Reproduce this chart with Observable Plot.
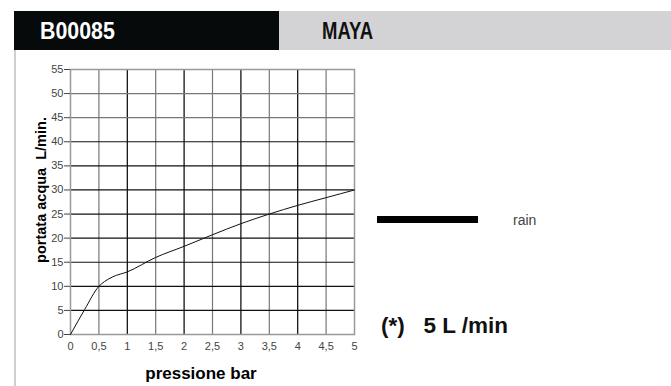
<!DOCTYPE html>
<html><head><meta charset="utf-8">
<script src="https://cdn.jsdelivr.net/npm/d3@7"></script>
<script src="https://cdn.jsdelivr.net/npm/@observablehq/plot@0.6"></script>
<style>
body{margin:0;width:671px;height:386px;overflow:hidden;background:#fff;font-family:"Liberation Sans",Arial,sans-serif;position:relative}
.abs{position:absolute}
</style></head><body>
<script>
const pressure = [0, 0.25, 0.5, 0.6, 0.75, 1, 1.5, 2, 2.5, 3, 3.5, 4, 4.5, 5];
const flow     = [0, 5.2, 10, 11, 12, 13, 16, 18.3, 20.7, 23, 25, 26.8, 28.4, 30];
const xTicks = [0, 0.5, 1, 1.5, 2, 2.5, 3, 3.5, 4, 4.5, 5];
const yTicks = [0, 5, 10, 15, 20, 25, 30, 35, 40, 45, 50, 55];
const code = "B00085";
const model = "MAYA";
const seriesName = "rain";
const note = "(*)   5 L /min";
const xTitle = "pressione bar";
const yTitle = "portata acqua  L/min.";

const data = pressure.map((p, i) => ({p, f: flow[i]}));
const fmt = d => String(d).replace(".", ",");

function el(tag, css, text) {
  const e = document.createElement(tag);
  e.className = "abs";
  e.style.cssText = css;
  if (text != null) e.textContent = text;
  document.body.appendChild(e);
  return e;
}

el("div", "left:14px;top:11px;width:265px;height:39px;background:#060a0b");
el("div", "left:279px;top:11px;width:392px;height:39px;background:#d3d3d5");
el("div", "left:40px;top:17px;font-weight:bold;font-size:24px;color:#fff;transform:scaleX(0.89);transform-origin:left top;line-height:28px", code);
el("div", "left:322px;top:17px;font-weight:bold;font-size:24px;color:#111;transform:scaleX(0.77);transform-origin:left top;line-height:28px", model);
el("div", "left:14px;top:50px;width:2px;height:336px;background:#cfcfcf");

const chart = Plot.plot({
  width: 370, height: 336,
  marginLeft: 70, marginRight: 16, marginTop: 19, marginBottom: 52,
  style: {fontFamily: "'Liberation Sans', Arial, sans-serif", fontSize: "11px", color: "#444", background: "transparent"},
  x: {domain: [0, 5], ticks: xTicks, tickFormat: fmt, tickSize: 0, tickPadding: 8, label: null},
  y: {domain: [0, 55], ticks: yTicks, tickSize: 6, tickPadding: 1, label: null},
  marks: [
    Plot.ruleX(xTicks.filter(d => d > 0 && d < 5), {x: d => d, stroke: d => Number.isInteger(d) ? "#000" : "#777", strokeWidth: 1.2}),
    Plot.ruleY(yTicks.filter(d => d > 0 && d < 55), {y: d => d, stroke: d => d >= 45 ? "#777" : "#111", strokeWidth: 1.2}),
    Plot.frame({stroke: "#999", strokeWidth: 1.5}),
    Plot.line(data, {x: "p", y: "f", stroke: "#111", strokeWidth: 1, curve: "monotone-x"}),
    Plot.axisY({ticks: yTicks, tickSize: 6, tickPadding: 1, stroke: "#444"}),
    Plot.axisX({ticks: xTicks, tickFormat: fmt, tickSize: 0, tickPadding: 8})
  ]
});
chart.style.position = "absolute";
chart.style.left = "0px";
chart.style.top = "50px";
document.body.appendChild(chart);

el("div", "left:41px;top:190px;font-weight:bold;font-size:14.5px;color:#000;white-space:pre;transform:translate(-50%,-50%) rotate(-90deg);line-height:16px", yTitle);
el("div", "left:201px;top:365px;font-weight:bold;font-size:17px;color:#000;transform:translateX(-50%);line-height:18px;white-space:pre", xTitle);

el("div", "left:377px;top:216px;width:101px;height:7px;background:#000");
el("div", "left:513px;top:212px;font-size:14px;color:#444;line-height:16px", seriesName);
el("div", "left:381px;top:313px;font-weight:bold;font-size:22.5px;color:#111;white-space:pre;line-height:26px", note);
</script>
</body></html>
